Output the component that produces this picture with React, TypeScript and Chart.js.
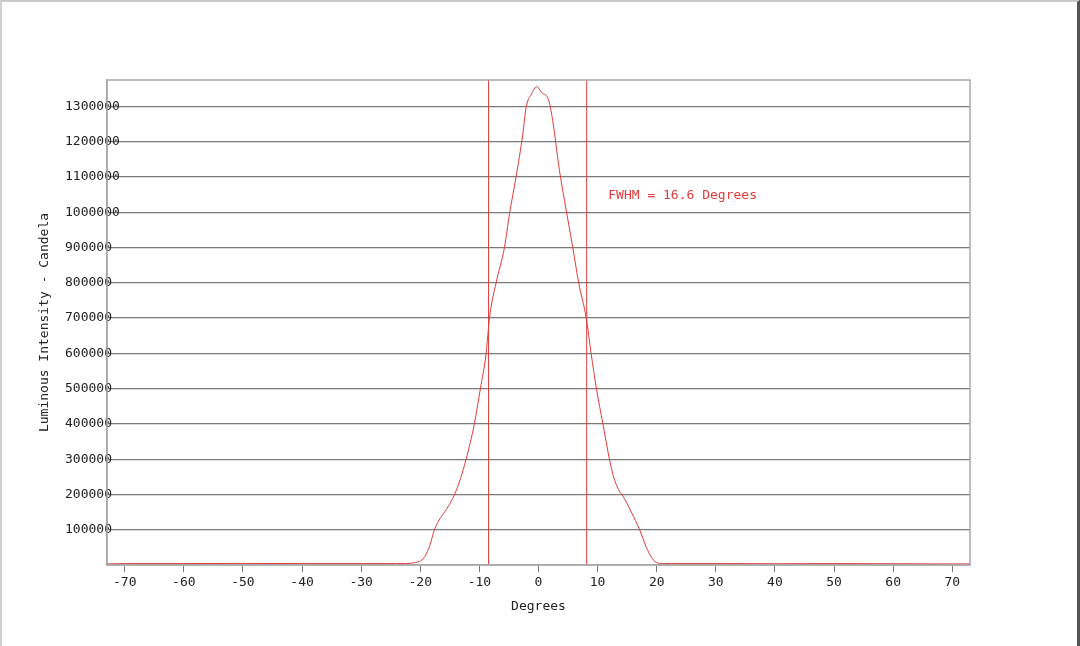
import React, { useEffect, useRef } from 'react';
import { Chart, registerables } from 'chart.js';

Chart.register(...registerables);

// beam profile
const degrees = [
  -73, -70, -60, -50, -40, -30, -24, -22.5, -21.6, -20.8, -19.9, -19.2, -18.4, -17.6,
  -16.9, -15.5, -14.2, -13.2, -12.25, -10.85, -9.83, -8.86, -8.3, -7.17, -5.76, -4.9,
  -3.8, -2.65, -2.1, -1.2, -0.3, 0.5, 1.75, 2.4, 3.55, 4.4, 5.8, 6.8, 8.08, 8.9,
  9.8, 10.9, 12.0, 12.7, 13.5, 14.3, 15.7, 17.1, 18.25, 19.0, 19.7, 21, 22.5, 30, 40,
  50, 60, 70, 73,
];
const intensity = [
  3000, 4000, 4000, 4500, 4000, 4000, 4000, 4000, 5000, 7000, 12000, 25000, 55000,
  100000, 125000, 160000, 200000, 245000, 300000, 400000, 500000, 600000, 700000,
  800000, 900000, 996000, 1100000, 1222000, 1297000, 1335000, 1356000, 1340000,
  1316000, 1260000, 1118000, 1033000, 900000, 800000, 700000, 600000, 500000,
  400000, 300000, 250000, 215000, 195000, 150000, 100000, 50000, 25000, 10000, 4000,
  4000, 4000, 3500, 4000, 3500, 3000, 3000,
];

const xTicks = [-70, -60, -50, -40, -30, -20, -10, 0, 10, 20, 30, 40, 50, 60, 70];
const yTicks = [
  100000, 200000, 300000, 400000, 500000, 600000, 700000, 800000, 900000, 1000000,
  1100000, 1200000, 1300000,
];

const fwhmEdges = [-8.45, 8.15];
const fwhmLabel = 'FWHM = 16.6 Degrees';
const labelAt = { x: 11.8, y: 1047000 };

const xMin = -73;
const xMax = 73;
const yMax = 1375000;

const MONO = '"DejaVu Sans Mono", monospace';
const RED = '#e03a3a';
const TEXT = '#222';

const frame = {
  id: 'frame',
  afterDraw(chart: Chart) {
    const { ctx, chartArea: a, scales } = chart;
    ctx.save();
    ctx.strokeStyle = '#a8a8a8';
    ctx.lineWidth = 1.5;
    ctx.strokeRect(a.left, a.top, a.right - a.left, a.bottom - a.top);
    ctx.fillStyle = RED;
    ctx.font = `13px ${MONO}`;
    ctx.textAlign = 'left';
    ctx.textBaseline = 'middle';
    ctx.fillText(fwhmLabel, scales.x.getPixelForValue(labelAt.x), scales.y.getPixelForValue(labelAt.y));
    ctx.restore();
  },
};

const App: React.FC = () => {
  const canvasRef = useRef<HTMLCanvasElement>(null);
  const chartRef = useRef<Chart | null>(null);

  useEffect(() => {
    if (!canvasRef.current) return;
    const ctx = canvasRef.current.getContext('2d');
    if (!ctx) return;
    if (chartRef.current) chartRef.current.destroy();

    const edgeSets = fwhmEdges.map((x) => ({
      data: [{ x, y: 0 }, { x, y: yMax }],
      borderColor: RED,
      borderWidth: 1,
      pointRadius: 0,
      showLine: true,
    }));

    chartRef.current = new Chart(ctx, {
      type: 'scatter',
      data: {
        datasets: [
          {
            data: degrees.map((d, i) => ({ x: d, y: intensity[i] })),
            borderColor: RED,
            borderWidth: 1,
            pointRadius: 0,
            showLine: true,
            cubicInterpolationMode: 'monotone',
          },
          ...edgeSets,
        ],
      },
      options: {
        responsive: true,
        maintainAspectRatio: false,
        animation: false,
        layout: { padding: { top: 80, right: 110, left: 7, bottom: 21 } },
        plugins: { legend: { display: false }, tooltip: { enabled: false } },
        scales: {
          x: {
            type: 'linear',
            min: xMin,
            max: xMax,
            afterFit: (s: any) => { s.height = 60; },
            afterBuildTicks: (s: any) => { s.ticks = xTicks.map((value) => ({ value })); },
            border: { color: '#a8a8a8', width: 1.5 },
            grid: { drawOnChartArea: false, tickLength: 7, color: '#777' },
            ticks: {
              padding: 3,
              color: TEXT,
              font: { family: MONO, size: 13 },
            },
            title: {
              display: true,
              text: 'Degrees',
              color: TEXT,
              font: { family: MONO, size: 13 },
              padding: { top: 0, bottom: 11 },
            },
          },
          y: {
            type: 'linear',
            min: 0,
            max: yMax,
            afterFit: (s: any) => { s.width = 100; },
            afterBuildTicks: (s: any) => { s.ticks = yTicks.map((value) => ({ value })); },
            border: { color: '#a8a8a8', width: 1.5 },
            grid: { drawTicks: false, color: '#7a7a7a', lineWidth: 1.2 },
            ticks: {
              mirror: true,
              padding: -42,
              color: TEXT,
              font: { family: MONO, size: 13 },
              callback: (v: any) => String(v),
            },
            title: {
              display: true,
              text: 'Luminous Intensity - Candela',
              color: TEXT,
              font: { family: MONO, size: 13 },
              padding: { top: 30, bottom: 0 },
            },
          },
        },
      },
      plugins: [frame],
    });

    return () => {
      if (chartRef.current) {
        chartRef.current.destroy();
        chartRef.current = null;
      }
    };
  }, []);

  return (
    <div
      style={{
        position: 'fixed',
        left: 0,
        top: 0,
        width: 1080,
        height: 646,
        background: '#fff',
        boxSizing: 'border-box',
        borderTop: '2px solid #c8c8c8',
        borderLeft: '2px solid #d0d0d0',
        borderRight: '3px solid #555',
      }}
    >
      <div style={{ position: 'absolute', left: -2, top: -2, width: 1080, height: 646 }}>
        <canvas ref={canvasRef}></canvas>
      </div>
    </div>
  );
};

export default App;
